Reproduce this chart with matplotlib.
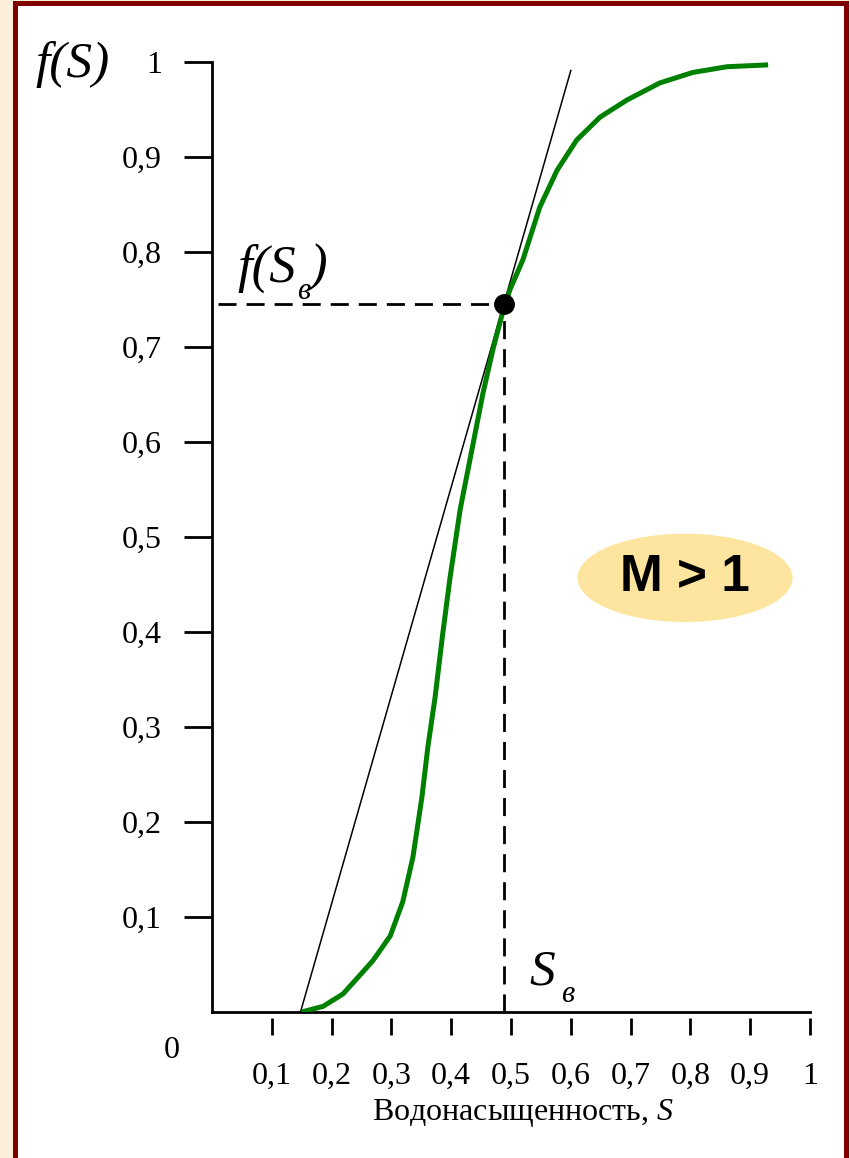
import matplotlib
matplotlib.use("Agg")
import matplotlib.pyplot as plt
from matplotlib.patches import Ellipse, Rectangle

# кривая доли воды f(S)
s_curve = [0.150, 0.186, 0.219, 0.242, 0.269, 0.298, 0.319, 0.336, 0.351, 0.361,
           0.373, 0.385, 0.398, 0.415, 0.435, 0.453, 0.470, 0.485, 0.498, 0.520,
           0.548, 0.577, 0.610, 0.649, 0.694, 0.749, 0.804, 0.861, 0.930]
f_curve = [0.0, 0.006, 0.019, 0.035, 0.054, 0.080, 0.116, 0.163, 0.226, 0.279,
           0.331, 0.394, 0.457, 0.529, 0.593, 0.651, 0.698, 0.734, 0.760, 0.792,
           0.847, 0.886, 0.918, 0.942, 0.960, 0.978, 0.989, 0.995, 0.997]

# касательная из точки начальной водонасыщенности
tangent_s = [0.148, 0.600]
tangent_f = [0.0, 0.991]

# точка фронта
s_front = 0.488
f_front = 0.745

ticks = [0.1, 0.2, 0.3, 0.4, 0.5, 0.6, 0.7, 0.8, 0.9, 1.0]
tick_labels = ["0,1", "0,2", "0,3", "0,4", "0,5", "0,6", "0,7", "0,8", "0,9", "1"]

plt.rcParams['font.family'] = ['Liberation Serif', 'DejaVu Serif']
plt.rcParams['mathtext.fontset'] = 'custom'
plt.rcParams['mathtext.rm'] = 'Liberation Serif'
plt.rcParams['mathtext.it'] = 'Liberation Serif:italic'

fig = plt.figure(figsize=(8.5, 11.58), dpi=100)
fig.patch.set_facecolor('#fcefdc')
fig.add_artist(Rectangle((14.5 / 850, -0.05), (845.5 - 14.5) / 850, 1.05 - 3 / 1158,
                         transform=fig.transFigure, facecolor='white',
                         edgecolor='#800000', lw=3.6, zorder=0))

ax = fig.add_axes([212 / 850, 146 / 1158, 598 / 850, 950 / 1158])
ax.set_facecolor('none')
ax.set_xlim(0, 1)
ax.set_ylim(0, 1)

ax.spines['top'].set_visible(False)
ax.spines['right'].set_visible(False)
ax.spines['left'].set_linewidth(2)
ax.spines['bottom'].set_visible(False)
ax.spines['bottom'].set_position(('outward', 4))
ax.axhline(0, color='black', lw=2, clip_on=False)

ax.set_xticks(ticks)
ax.set_xticklabels(tick_labels)
ax.set_yticks(ticks)
ax.set_yticklabels(tick_labels)
ax.tick_params(axis='x', direction='out', length=12, width=2, pad=20, labelsize=23)
ax.tick_params(axis='y', direction='out', length=20, width=2, pad=16, labelsize=23)

# кривая и касательная
ax.plot(s_curve, f_curve, color='#008000', lw=3.6, solid_joinstyle='round',
        solid_capstyle='butt', zorder=3)
ax.plot(tangent_s, tangent_f, color='black', lw=1.1, zorder=2)

# пунктирные проекции точки
ax.plot([0.01, s_front], [f_front, f_front], color='black', lw=2,
        dashes=(6.5, 3.6), zorder=2)
ax.plot([s_front, s_front], [0, f_front], color='black', lw=2,
        dashes=(6.5, 3.6), zorder=2)
ax.plot([s_front], [f_front], 'o', color='black', markersize=14, zorder=4)

# подписи
ax.text(-0.234, 0.997, "f(S)", fontsize=37, style='italic', ha='center',
        va='center', clip_on=False)
ax.text(-0.067, -0.04, "0", fontsize=23, ha='center', va='center', clip_on=False)
ax.text(0.042, 0.783, "f(S", fontsize=38, style='italic', ha='left', va='center')
ax.text(0.154, 0.758, "в", fontsize=22, style='italic', ha='center', va='center')
ax.text(0.177, 0.783, ")", fontsize=38, style='italic', ha='center', va='center')
ax.text(0.552, 0.042, "S", fontsize=37, style='italic', ha='center', va='center')
ax.text(0.595, 0.018, "в", fontsize=22, style='italic', ha='center', va='center')

ax.text(0.52, -0.106, "Водонасыщенность, $S$", fontsize=23, ha='center',
        va='center', clip_on=False)

ax.add_patch(Ellipse((0.791, 0.457), 0.36, 0.093, facecolor='#fde59f',
                     edgecolor='none', zorder=1))
ax.text(0.791, 0.457, "M > 1", fontsize=37, fontweight='bold',
        family=['Liberation Sans', 'DejaVu Sans'], ha='center', va='center',
        zorder=2)

fig.savefig("out.png", dpi=100)
